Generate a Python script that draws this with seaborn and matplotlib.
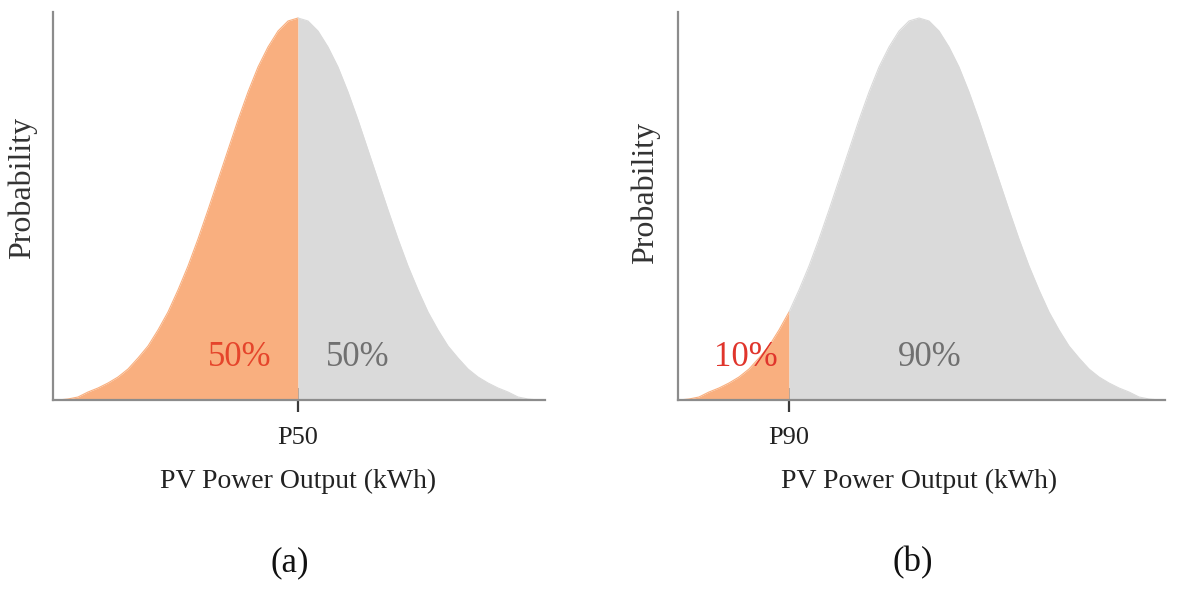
import numpy as np
import matplotlib
matplotlib.use("Agg")
import matplotlib.pyplot as plt
import seaborn as sns

# bell curve half profile: offset from peak, height above baseline
curve_dx = [0, 10, 20, 30, 40, 50, 60, 70, 80, 90, 100, 110, 120,
            130, 140, 150, 160, 170, 180, 190, 200, 210, 220, 230, 240]
curve_h = [382, 379, 369, 353, 333, 308, 280, 250, 220, 190, 161, 134, 110,
           88, 70, 54, 42, 31, 23, 17, 12, 8, 3, 1, 0]

# peak position and split position in each panel (axis units)
peaks = [245, 241]
splits = [245, 111]
xmax = [492, 487]
split_labels = ["P50", "P90"]
low_labels = ["50%", "10%"]
high_labels = ["50%", "90%"]
low_label_x = [187, 68]
high_label_x = [305, 252]
panel_labels = ["(a)", "(b)"]

sns.set_theme(style="white")
plt.rcParams["font.family"] = ["Liberation Serif", "DejaVu Serif"]

orange = "#F9AF7F"
grey = "#DADADA"
spine_col = "#8C8C8C"

W, H = 1186, 590
fig = plt.figure(figsize=(W / 100, H / 100), dpi=100)
fig.patch.set_facecolor("white")

def fx(x):
    return x / W

def fy(y):
    return 1 - y / H

ax_left = [53, 678]
ax_rects = [[fx(53), fy(400), 492 / W, 388 / H], [fx(678), fy(400), 487 / W, 388 / H]]

dx = np.array(curve_dx, dtype=float)
h = np.array(curve_h, dtype=float)

for i in range(2):
    ax = fig.add_axes(ax_rects[i])
    ax.set_facecolor("white")
    x = np.concatenate([peaks[i] - dx[::-1][:-1], peaks[i] + dx])
    y = np.concatenate([h[::-1][:-1], h])

    lo = x <= splits[i]
    hi = x >= splits[i]
    ax.fill_between(x[lo], y[lo], color=orange, lw=0)
    ax.fill_between(x[hi], y[hi], color=grey, lw=0)
    sns.lineplot(x=x[lo], y=y[lo], ax=ax, color=orange, lw=0.8)
    sns.lineplot(x=x[hi], y=y[hi], ax=ax, color=grey, lw=0.8)

    ax.set_xlim(0, xmax[i])
    ax.set_ylim(0, 388)
    ax.set_xticks([splits[i]])
    ax.set_xticklabels([])
    ax.set_yticks([])
    ax.set_xlabel("")
    ax.set_ylabel("")
    ax.tick_params(axis="x", direction="inout", length=17, width=1.6,
                   color="#3A3A3A", bottom=True)
    for s in ["top", "right"]:
        ax.spines[s].set_visible(False)
    for s in ["left", "bottom"]:
        ax.spines[s].set_color(spine_col)
        ax.spines[s].set_linewidth(1.6)

    ax.text(low_label_x[i], 43, low_labels[i], color="#E5452B" if i == 0 else "#E0352C",
            fontsize=25, ha="center", va="center")
    ax.text(high_label_x[i], 43, high_labels[i], color="#707070",
            fontsize=25, ha="center", va="center")

    tick_px = ax_left[i] + splits[i]
    fig.text(fx(tick_px), fy(438), split_labels[i], fontsize=19,
             ha="center", va="center", color="#222222")
    mid_px = ax_left[i] + peaks[i]
    fig.text(fx(mid_px), fy(481), "PV Power Output (kWh)", fontsize=20,
             ha="center", va="center", color="#222222")
    fig.text(fx([22, 645][i]), fy([188, 193][i]), "Probability", fontsize=23,
             rotation=90, ha="center", va="center", color="#333333")
    fig.text(fx([290, 913][i]), fy(563), panel_labels[i], fontsize=25,
             ha="center", va="center", color="#111111")

fig.savefig("out.png", dpi=100, facecolor="white")
